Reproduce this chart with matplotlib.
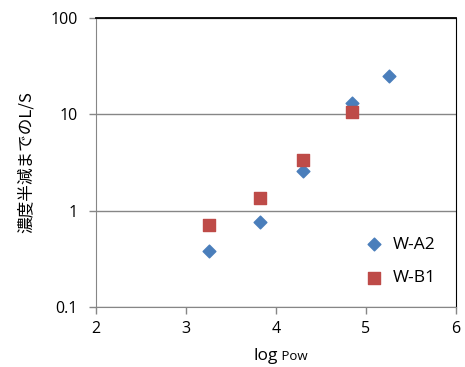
import matplotlib
matplotlib.use("Agg")
import matplotlib.pyplot as plt
from matplotlib.ticker import FixedLocator, FixedFormatter, NullLocator

plt.rcParams['font.family'] = ['Open Sans', 'Noto Sans CJK JP', 'DejaVu Sans']

# データ
logpow_a2 = [3.26, 3.82, 4.30, 4.85, 5.26]
ls_a2 = [0.385, 0.77, 2.6, 13.0, 25.0]
logpow_b1 = [3.26, 3.82, 4.30, 4.85]
ls_b1 = [0.71, 1.35, 3.35, 10.5]

y_ticks = [0.1, 1, 10, 100]
y_labels = ['0.1', '1', '10', '100']
x_ticks = [2, 3, 4, 5, 6]

fig = plt.figure(figsize=(4.65, 3.67), dpi=100)
ax = fig.add_axes([0.2065, 0.1635, 0.774, 0.7875])

ax.scatter(logpow_a2, ls_a2, marker='D', s=42, color='#4a7ebb', label='W-A2', zorder=3)
ax.scatter(logpow_b1, ls_b1, marker='s', s=80, color='#be4b48', label='W-B1', zorder=3)

ax.set_yscale('log')
ax.set_ylim(0.1, 100)
ax.set_xlim(2, 6)
ax.yaxis.set_major_locator(FixedLocator(y_ticks))
ax.yaxis.set_major_formatter(FixedFormatter(y_labels))
ax.yaxis.set_minor_locator(NullLocator())
ax.set_xticks(x_ticks)

ax.grid(axis='y', color='#868686', linewidth=1)
ax.set_axisbelow(True)

for s in ['left', 'bottom']:
    ax.spines[s].set_color('#868686')
for s in ['top', 'right']:
    ax.spines[s].set_color('#000000')
ax.spines['top'].set_linewidth(1.3)
ax.tick_params(length=5, width=1, color='#868686', labelsize=11.5)
ax.tick_params(axis='x', pad=5)
ax.tick_params(axis='y', pad=8)

ax.set_ylabel('濃度半減までのL/S', fontsize=12, family=['Noto Sans CJK JP', 'DejaVu Sans'], labelpad=11)

ax.text(0.505, -0.185, 'log', transform=ax.transAxes, ha='right', va='baseline', fontsize=12.5)
ax.text(0.505, -0.185, ' Pow', transform=ax.transAxes, ha='left', va='baseline', fontsize=9.5)

ax.legend(loc='center', bbox_to_anchor=(0.835, 0.157), frameon=False, fontsize=12.5,
          handletextpad=0.1, labelspacing=1.0, scatterpoints=1)

fig.savefig('out.png', dpi=100)
